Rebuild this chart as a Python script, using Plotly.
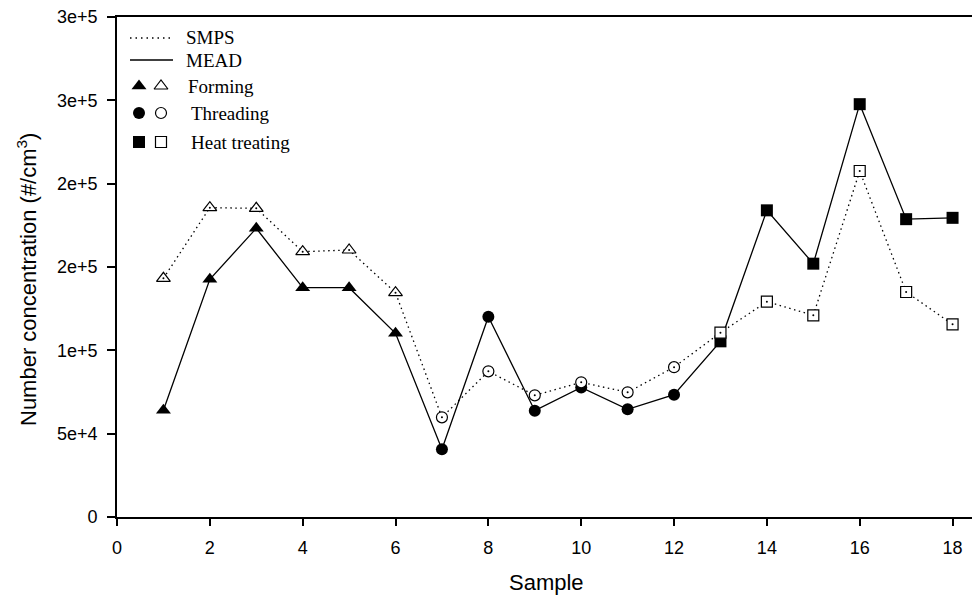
import plotly.graph_objects as go

# ---- data ----
samples = list(range(1, 19))
process = ["Forming"] * 6 + ["Threading"] * 6 + ["Heat treating"] * 6
mead = [64000, 142600, 173200, 137600, 137600, 110200,
        40600, 120200, 63800, 77700, 64600, 73400,
        105400, 184000, 152000, 247700, 178700, 179500]
smps = [143200, 185600, 185200, 159200, 160200, 134600,
        59800, 87400, 73000, 80800, 74800, 89900,
        110600, 129200, 121000, 207600, 135000, 115600]
y_tickvals = [0, 50000, 100000, 150000, 200000, 250000, 300000]
y_ticktext = ["0", "5e+4", "1e+5", "2e+5", "2e+5", "3e+5", "3e+5"]
x_tickvals = [0, 2, 4, 6, 8, 10, 12, 14, 16, 18]
legend_items = ["Forming", "Threading", "Heat treating"]

filled = {"Forming": "triangle-up", "Threading": "circle", "Heat treating": "square"}
sizes = {"Forming": 13, "Threading": 12, "Heat treating": 12}

fig = go.Figure()

# MEAD: solid line, filled symbols
fig.add_trace(go.Scatter(
    x=samples, y=mead, mode="lines+markers",
    line=dict(color="black", width=1.3),
    marker=dict(symbol=[filled[p] for p in process],
                size=[sizes[p] for p in process], opacity=1,
                color="black", line=dict(width=0)),
    showlegend=False, hoverinfo="skip"))

# SMPS: dotted line, open symbols (white filled)
fig.add_trace(go.Scatter(
    x=samples, y=smps, mode="lines+markers",
    line=dict(color="black", width=1.3, dash="1.5px,3.5px"),
    marker=dict(symbol=[filled[p] for p in process],
                size=[sizes[p] - 1 for p in process], opacity=1,
                color="white", line=dict(color="black", width=1.2)),
    showlegend=False, hoverinfo="skip"))
# center dots of open symbols
fig.add_trace(go.Scatter(
    x=samples, y=smps, mode="markers",
    marker=dict(symbol="circle", size=2, color="black", opacity=1),
    showlegend=False, hoverinfo="skip"))

# ---- legend drawn on an overlay axis in pixel units of the plot area ----
lfont = dict(family="Liberation Serif", size=19, color="black")
fig.add_trace(go.Scatter(x=[13, 56], y=[21, 21], mode="lines", xaxis="x2", yaxis="y2",
                         line=dict(color="black", width=1.3, dash="1.5px,4px"),
                         showlegend=False, hoverinfo="skip"))
fig.add_trace(go.Scatter(x=[13, 56], y=[43, 43], mode="lines", xaxis="x2", yaxis="y2",
                         line=dict(color="black", width=1.3),
                         showlegend=False, hoverinfo="skip"))
leg_y = [69, 96, 125]
for name, ly in zip(legend_items, leg_y):
    fig.add_trace(go.Scatter(x=[22], y=[ly], mode="markers", xaxis="x2", yaxis="y2",
                             marker=dict(symbol=filled[name], size=sizes[name], color="black"),
                             showlegend=False, hoverinfo="skip"))
    fig.add_trace(go.Scatter(x=[44], y=[ly], mode="markers", xaxis="x2", yaxis="y2",
                             marker=dict(symbol=filled[name], size=sizes[name] - 1, color="white",
                                         line=dict(color="black", width=1.2)),
                             showlegend=False, hoverinfo="skip"))

annotations = []
for txt, lx, ly in [("SMPS", 67, 20), ("MEAD", 67, 43),
                    ("Forming", 69, 69), ("Threading", 72, 96), ("Heat treating", 72, 125)]:
    annotations.append(dict(text=txt, x=lx, y=ly, xref="x2", yref="y2",
                            xanchor="left", yanchor="middle", showarrow=False, font=lfont))

afont = dict(family="Liberation Sans", size=22, color="black")
annotations.append(dict(text="Number concentration (#/cm<sup>3</sup>)",
                        x=(27 - 117) / 855, y=(517 - 280) / 500, xref="paper", yref="paper",
                        textangle=-90, xanchor="center", yanchor="middle",
                        showarrow=False, font=afont))
annotations.append(dict(text="Sample", x=(546 - 117) / 855, y=-(582 - 517) / 500,
                        xref="paper", yref="paper", xanchor="center", yanchor="middle",
                        showarrow=False, font=afont))

tfont = dict(family="Liberation Sans", size=18, color="black")
fig.update_layout(
    width=972, height=603,
    margin=dict(l=117, r=0, t=17, b=86),
    paper_bgcolor="white", plot_bgcolor="white",
    showlegend=False,
    xaxis=dict(range=[0, 855 / 46.42], tickvals=x_tickvals, ticks="outside", ticklen=7,
               tickwidth=1.5, tickcolor="black", showline=True, linecolor="black",
               linewidth=1.6, mirror=True, showgrid=False, zeroline=False,
               tickfont=tfont, ticklabelstandoff=7),
    yaxis=dict(range=[0, 300000], tickvals=y_tickvals, ticktext=y_ticktext,
               ticks="outside", ticklen=8, tickwidth=1.5, tickcolor="black",
               showline=True, linecolor="black", linewidth=1.6, showgrid=False,
               zeroline=False, tickfont=tfont, ticklabelstandoff=6),
    xaxis2=dict(range=[0, 855], overlaying="x", anchor="y2", visible=False,
                domain=[0, 1], fixedrange=True),
    yaxis2=dict(range=[500, 0], overlaying="y", anchor="x2", visible=False,
                domain=[0, 1], fixedrange=True),
    annotations=annotations,
)

fig.write_html("out.html")
